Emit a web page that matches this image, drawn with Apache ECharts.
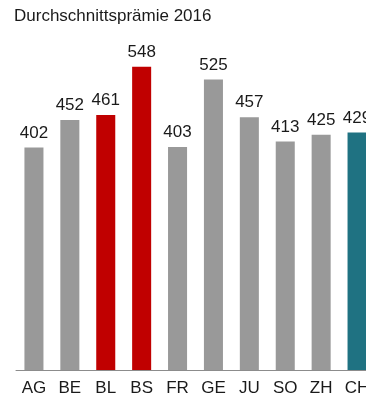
<!DOCTYPE html>
<html>
<head>
<meta charset="utf-8">
<script src="https://cdn.jsdelivr.net/npm/echarts@6/dist/echarts.min.js"></script>
<style>
html,body{margin:0;padding:0;background:#fff;}
#chart{width:366px;height:401px;}
</style>
</head>
<body>
<div id="chart"></div>
<script>
const titleText = 'Durchschnittsprämie 2016';
const categories = ['AG','BE','BL','BS','FR','GE','JU','SO','ZH','CH'];
const values = [402, 452, 461, 548, 403, 525, 457, 413, 425, 429];
const barColors = ['#999999','#999999','#C00000','#C00000','#999999','#999999','#999999','#999999','#999999','#1F7282'];

const chart = echarts.init(document.getElementById('chart'), null, {renderer:'canvas'});
chart.setOption({
  animation: false,
  backgroundColor: '#ffffff',
  title: {
    text: titleText,
    left: 9, top: 3,
    textStyle: {fontFamily: 'Liberation Sans, Arial, sans-serif', fontSize: 17, fontWeight: 'normal', color: '#1a1a1a'}
  },
  grid: {left: 16, top: 38, width: 359, height: 332, containLabel: false, outerBoundsMode: 'none'},
  xAxis: {
    type: 'category',
    data: categories,
    axisLine: {lineStyle: {color: '#8c8c8c', width: 1}},
    axisTick: {show: false},
    axisLabel: {margin: 10, fontFamily: 'Liberation Sans, Arial, sans-serif', fontSize: 17, color: '#1a1a1a', interval: 0}
  },
  yAxis: {
    type: 'value', min: 0, max: 600, show: false, splitLine: {show: false}
  },
  series: [{
    type: 'bar',
    data: values.map((v, i) => ({value: v, itemStyle: {color: barColors[i]}})),
    barWidth: '53%',
    label: {
      show: true, position: 'top', distance: 6,
      fontFamily: 'Liberation Sans, Arial, sans-serif', fontSize: 17, color: '#1a1a1a'
    }
  }]
});
</script>
</body>
</html>
